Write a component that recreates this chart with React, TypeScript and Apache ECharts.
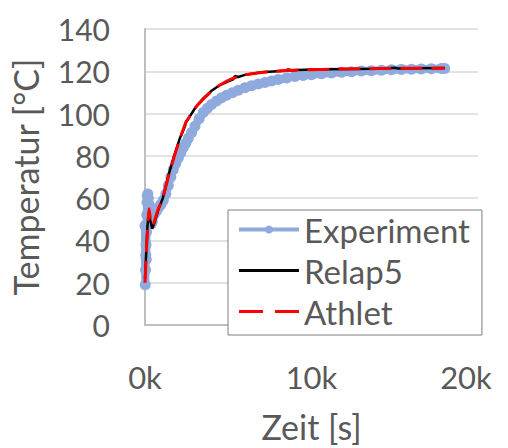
import React, { useEffect, useRef } from "react";
import * as echarts from "echarts";

// Time [s] and temperature [°C] samples for each curve
const experimentData: [number, number][] = [
  [0, 47], [15, 19], [30, 26], [45, 33], [60, 38], [75, 31], [90, 44], [105, 52],
  [120, 58], [140, 61], [170, 62], [200, 60], [240, 57], [280, 53], [330, 50],
  [380, 48], [440, 49], [520, 52], [600, 53], [700, 54], [800, 55.5], [950, 57],
  [1100, 59], [1250, 62], [1400, 66], [1550, 70], [1700, 73.5], [1850, 76.5],
  [2000, 79], [2150, 81.5], [2300, 84], [2450, 86], [2600, 88.3], [2800, 91],
  [3000, 94], [3250, 97.5], [3500, 100.5], [3750, 102.5], [4000, 104.3],
  [4300, 106], [4600, 107.5], [4900, 108.7], [5250, 109.8], [5600, 111],
  [6000, 112.2], [6400, 113.2], [6800, 114], [7200, 114.7], [7600, 115.4],
  [8000, 116.1], [8500, 116.8], [9000, 117.5], [9500, 118], [10000, 118.4],
  [10600, 118.8], [11200, 119.2], [11800, 119.5], [12400, 119.8], [13000, 120.1],
  [13600, 120.3], [14200, 120.5], [14800, 120.7], [15400, 120.9], [16000, 121],
  [16600, 121.1], [17200, 121.2], [17800, 121.3], [18000, 121.3],
];

const relap5Data: [number, number][] = [
  [0, 22], [60, 32], [150, 47], [230, 53], [300, 50], [430, 45.5], [550, 48],
  [800, 54.5], [1071, 60], [1400, 70.5], [1768, 80.5], [2100, 88.5], [2400, 94],
  [2450, 96], [2600, 97.5], [3000, 102.5], [3450, 106.8], [4000, 110.8],
  [4500, 113.5], [5000, 115.2], [5300, 116.2], [5400, 117.8], [5600, 117.3],
  [6000, 118.3], [7000, 119.5], [8400, 120.3], [8600, 120.9], [8800, 120.5],
  [10000, 120.8], [12000, 121.1], [14000, 121.2], [15000, 121.7], [15200, 121.3],
  [16000, 121.4], [18000, 121.5],
];

const athletData: [number, number][] = [
  [0, 20], [60, 30], [150, 45], [240, 55], [330, 50], [450, 47], [600, 50],
  [800, 55], [1071, 60], [1400, 70], [1768, 80], [2100, 88], [2440, 95.5],
  [3000, 102.5], [3450, 106.5], [4000, 110.5], [4500, 113.5], [5240, 116.5],
  [6000, 118.3], [7420, 119.8], [9000, 120.5], [10600, 120.9], [12000, 121.1],
  [14000, 121.3], [16000, 121.4], [18000, 121.4],
];

const seriesNames = ["Experiment", "Relap5", "Athlet"];
const xTicks = [0, 10000, 20000];

const FONT = "Lato";
const TEXT = "#595959";
const BLUE = "#8faadc";

export default function App() {
  const ref = useRef<HTMLDivElement>(null);

  useEffect(() => {
    if (!ref.current) return;
    const chart = echarts.init(ref.current, undefined, { renderer: "svg" });
    chart.setOption({
      animation: false,
      backgroundColor: "#ffffff",
      grid: { left: 142, right: 30, top: 29, bottom: 115, containLabel: false },
      xAxis: {
        type: "value",
        min: xTicks[0],
        max: xTicks[xTicks.length - 1],
        interval: xTicks[1] - xTicks[0],
        name: "Zeit [s]",
        nameLocation: "middle",
        nameGap: 84,
        nameTextStyle: { fontFamily: FONT, fontSize: 34, color: TEXT },
        axisLine: { show: true, lineStyle: { color: "#bfbfbf", width: 2 } },
        axisTick: { show: false },
        splitLine: { show: false },
        axisLabel: {
          margin: 36,
          fontFamily: FONT,
          fontSize: 31,
          color: TEXT,
          formatter: (v: number) =>
            v === xTicks[xTicks.length - 1] ? `{last|${v / 1000}k}` : `${v / 1000}k`,
          rich: {
            last: {
              fontFamily: FONT,
              fontSize: 31,
              color: TEXT,
              padding: [0, 24, 0, 0],
            },
          },
        },
      },
      yAxis: {
        type: "value",
        min: 0,
        max: 140,
        interval: 20,
        name: "Temperatur [°C]",
        nameLocation: "middle",
        nameGap: 103,
        nameTextStyle: { fontFamily: FONT, fontSize: 34, color: TEXT },
        axisLine: { show: true, lineStyle: { color: "#bfbfbf", width: 2 } },
        axisTick: { show: false },
        splitLine: { show: true, lineStyle: { color: "#d9d9d9", width: 1.5 } },
        axisLabel: { margin: 35, fontFamily: FONT, fontSize: 30, color: TEXT },
      },
      legend: {
        orient: "vertical",
        left: 228,
        top: 210,
        padding: [3, 12, 7, 9],
        itemWidth: 60,
        itemHeight: 10,
        itemGap: 8,
        borderColor: "#7f7f7f",
        borderWidth: 1,
        backgroundColor: "#ffffff",
        textStyle: { fontFamily: FONT, fontSize: 33, color: TEXT, lineHeight: 32 },
        data: [
          { name: seriesNames[0], lineStyle: { width: 4 } },
          { name: seriesNames[1], lineStyle: { width: 3 }, itemStyle: { opacity: 0 } },
          {
            name: seriesNames[2],
            lineStyle: { width: 3, type: [24, 12] },
            itemStyle: { opacity: 0 },
          },
        ],
      },
      series: [
        {
          name: seriesNames[0],
          type: "line",
          data: experimentData,
          color: BLUE,
          symbol: "circle",
          symbolSize: 11,
          lineStyle: { color: BLUE, width: 8 },
          itemStyle: { color: BLUE },
          z: 1,
        },
        {
          name: seriesNames[1],
          type: "line",
          data: relap5Data,
          color: "#000000",
          symbol: "none",
          lineStyle: { color: "#000000", width: 2.5 },
          z: 2,
        },
        {
          name: seriesNames[2],
          type: "line",
          data: athletData,
          color: "#ff0000",
          symbol: "none",
          smooth: 0.2,
          lineStyle: { color: "#ff0000", width: 3, type: [22, 9] },
          z: 3,
        },
      ],
    });
    return () => chart.dispose();
  }, []);

  return (
    <div
      ref={ref}
      style={{ position: "fixed", left: 0, top: 0, width: 508, height: 448 }}
    />
  );
}
